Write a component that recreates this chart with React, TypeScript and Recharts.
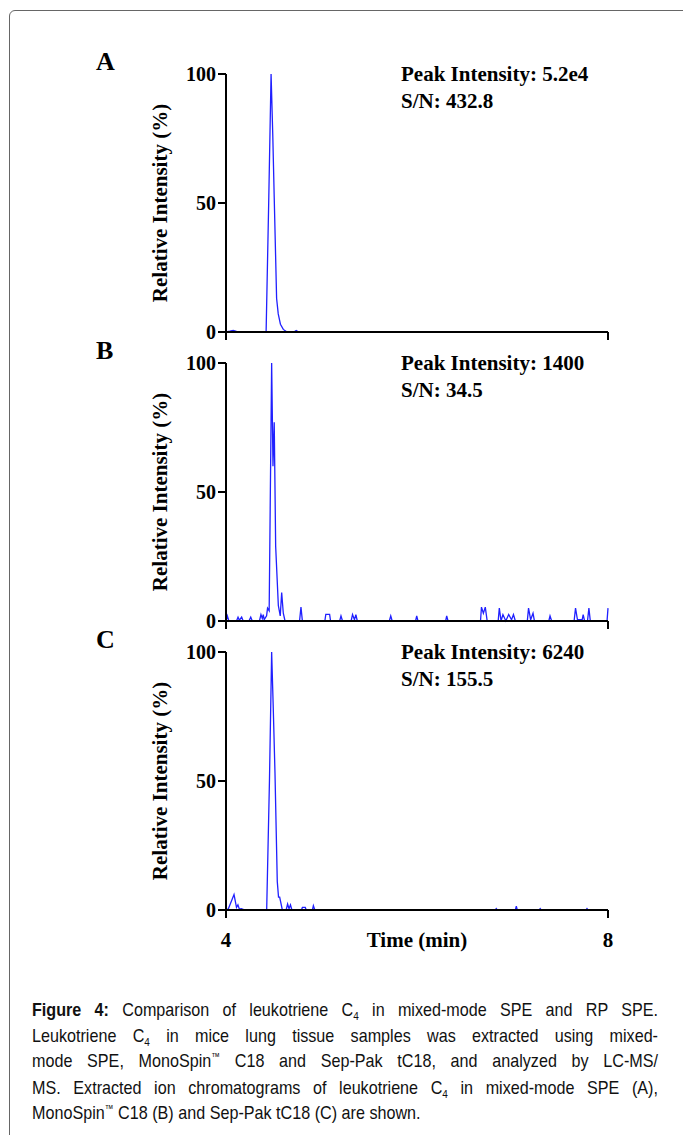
import { LineChart, Line, XAxis, YAxis } from 'recharts';

// panel A: mixed-mode SPE
const timeA = [4.0, 4.04, 4.075, 4.11, 4.15, 4.42, 4.447, 4.472, 4.49, 4.505, 4.53, 4.547, 4.57, 4.6, 4.64, 4.71, 4.735, 4.76, 8.0];
const intA = [0, 0.3, 0.6, 0.2, 0, 0, 50, 100, 76, 52, 13, 7, 3, 1, 0, 0, 0.6, 0, 0];

// panel B: MonoSpin C18
const timeB = [
  4.0, 4.014, 4.03, 4.11, 4.126, 4.14, 4.164, 4.18, 4.24, 4.259, 4.275, 4.35, 4.366, 4.38, 4.39, 4.4,
  4.425, 4.435, 4.452, 4.478, 4.492, 4.505, 4.52, 4.548, 4.568, 4.583, 4.6, 4.618, 4.77, 4.785, 4.8,
  5.035, 5.045, 5.085, 5.095, 5.19, 5.204, 5.22, 5.31, 5.325, 5.345, 5.36, 5.375, 5.71, 5.725, 5.74,
  5.985, 5.997, 6.01, 6.3, 6.311, 6.325, 6.665, 6.675, 6.695, 6.715, 6.735, 6.85, 6.862, 6.88, 6.9,
  6.93, 6.96, 6.99, 7.01, 7.03, 7.155, 7.168, 7.19, 7.215, 7.23, 7.38, 7.393, 7.41, 7.645, 7.66,
  7.68, 7.73, 7.74, 7.755, 7.785, 7.8, 7.815, 7.99, 8.0,
];
const intB = [
  0, 2, 0, 0, 1.5, 0.3, 1.5, 0, 0, 1.5, 0, 0, 2.5, 1, 2.5, 0.5,
  2, 5, 4, 100, 60, 77, 29, 6, 2, 11, 3, 0, 0, 5.4, 0,
  0, 2.6, 2.6, 0, 0, 2, 0, 0, 2.5, 0.5, 2.5, 0, 0, 2, 0,
  0, 2, 0, 0, 2, 0, 0, 5.4, 3, 5.4, 0, 0, 5, 0, 2.5,
  0, 2.5, 0.5, 2.5, 0, 0, 5, 0.5, 3, 0, 0, 2, 0, 0, 5,
  0.5, 0.5, 2.5, 0, 0, 5, 0, 0, 5,
];

// panel C: Sep-Pak tC18
const timeC = [
  4.0, 4.025, 4.084, 4.11, 4.125, 4.14, 4.16, 4.2, 4.426, 4.455, 4.478, 4.495, 4.513, 4.537, 4.55,
  4.562, 4.59, 4.63, 4.645, 4.66, 4.675, 4.69, 4.79, 4.8, 4.83, 4.84, 4.905, 4.915, 4.93, 6.82, 6.83,
  6.84, 7.03, 7.04, 7.05, 7.28, 7.29, 7.3, 7.77, 7.78, 7.79, 8.0,
];
const intC = [
  0, 0.5, 6, 1, 2, 0.3, 0.5, 0, 0, 50, 100, 78, 53, 11, 5,
  5, 0, 0, 2.3, 0.5, 2, 0, 0, 1, 1, 0, 0, 1.7, 0, 0, 0.5,
  0, 0, 1.5, 0, 0, 0.5, 0, 0, 0.5, 0, 0,
];

const xTicks = [4, 8];
const yTicks = [0, 50, 100];

const panels = [
  { letter: 'A', peak: 'Peak Intensity: 5.2e4', sn: 'S/N: 432.8', time: timeA, values: intA, plotTop: 74 },
  { letter: 'B', peak: 'Peak Intensity: 1400', sn: 'S/N: 34.5', time: timeB, values: intB, plotTop: 363 },
  { letter: 'C', peak: 'Peak Intensity: 6240', sn: 'S/N: 155.5', time: timeC, values: intC, plotTop: 652 },
];

const serif = "'Liberation Serif', 'Times New Roman', serif";
const sans = "'Liberation Sans', Arial, sans-serif";

function Panel({ time, values, plotTop, last }: { time: number[]; values: number[]; plotTop: number; last: boolean }) {
  const data = time.map((t, i) => ({ t, v: values[i] }));
  return (
    <div style={{ position: 'absolute', left: 0, top: plotTop - 20 }}>
      <LineChart width={683} height={328} data={data} margin={{ top: 20, right: 75, bottom: 0, left: 136 }}>
        <XAxis
          dataKey="t"
          type="number"
          domain={[4, 8]}
          ticks={xTicks}
          height={50}
          tickSize={8}
          tickMargin={14}
          tickFormatter={(v) => (last ? String(v) : '')}
          axisLine={{ stroke: '#000', strokeWidth: 2 }}
          tickLine={{ stroke: '#000', strokeWidth: 2 }}
          tick={{ fill: '#000', fontSize: 21, fontWeight: 'bold', fontFamily: serif }}
        />
        <YAxis
          domain={[0, 100]}
          ticks={yTicks}
          width={90}
          tickSize={8}
          axisLine={{ stroke: '#000', strokeWidth: 2 }}
          tickLine={{ stroke: '#000', strokeWidth: 2 }}
          tick={{ fill: '#000', fontSize: 20, fontWeight: 'bold', fontFamily: serif }}
          label={{
            value: 'Relative Intensity (%)',
            angle: -90,
            position: 'center',
            dx: -21,
            style: { fill: '#000', fontSize: 21, fontWeight: 'bold', fontFamily: serif },
          }}
        />
        <Line type="linear" dataKey="v" stroke="#2020ff" strokeWidth={1.3} dot={false} isAnimationActive={false} />
      </LineChart>
    </div>
  );
}

const Sub = ({ children }: { children: string }) => (
  <span style={{ fontSize: '0.62em', position: 'relative', top: '0.35em' }}>{children}</span>
);
const Tm = () => <span style={{ fontSize: '0.55em', position: 'relative', top: '-0.7em' }}>™</span>;

const lineStyle = { textAlign: 'justify' as const, textAlignLast: 'justify' as const, whiteSpace: 'nowrap' as const };

// caption glyphs in the figure are narrow, so squeeze the text box horizontally
const squeeze = 0.85;

export default function App() {
  return (
    <div style={{ position: 'absolute', left: 0, top: 0, width: 683, height: 1135, overflow: 'hidden', background: '#fff' }}>
      <div
        style={{
          position: 'absolute',
          left: 9,
          top: 10,
          width: 680,
          height: 1150,
          border: '1px solid #666',
          borderRadius: 6,
        }}
      />
      {panels.map((p, i) => (
        <Panel key={p.letter} time={p.time} values={p.values} plotTop={p.plotTop} last={i === panels.length - 1} />
      ))}
      <svg width={683} height={1135} style={{ position: 'absolute', left: 0, top: 0, pointerEvents: 'none' }}>
        {panels.map((p) => (
          <g key={p.letter} fontFamily={serif} fontWeight="bold" fill="#000">
            <text x={96} y={p.plotTop - 4} fontSize={26}>{p.letter}</text>
            <text x={401} y={p.plotTop + 7} fontSize={21}>{p.peak}</text>
            <text x={401} y={p.plotTop + 34} fontSize={21}>{p.sn}</text>
          </g>
        ))}
        <text x={417} y={947} textAnchor="middle" fontFamily={serif} fontWeight="bold" fontSize={21}>Time (min)</text>
      </svg>
      <div
        style={{
          position: 'absolute',
          left: 32,
          top: 998,
          width: 626 / squeeze,
          transform: `scaleX(${squeeze})`,
          transformOrigin: '0 0',
          fontFamily: sans,
          fontSize: 19,
          lineHeight: '23.5px',
          color: '#111',
        }}
      >
        <div style={lineStyle}>
          <b>Figure 4:</b> Comparison of leukotriene C<Sub>4</Sub> in mixed-mode SPE and RP SPE.
        </div>
        <div style={lineStyle}>
          Leukotriene C<Sub>4</Sub> in mice lung tissue samples was extracted using mixed-
        </div>
        <div style={lineStyle}>
          mode SPE, MonoSpin<Tm /> C18 and Sep-Pak tC18, and analyzed by LC-MS/
        </div>
        <div style={lineStyle}>
          MS. Extracted ion chromatograms of leukotriene C<Sub>4</Sub> in mixed-mode SPE (A),
        </div>
        <div style={{ whiteSpace: 'nowrap' }}>
          MonoSpin<Tm /> C18 (B) and Sep-Pak tC18 (C) are shown.
        </div>
      </div>
    </div>
  );
}
